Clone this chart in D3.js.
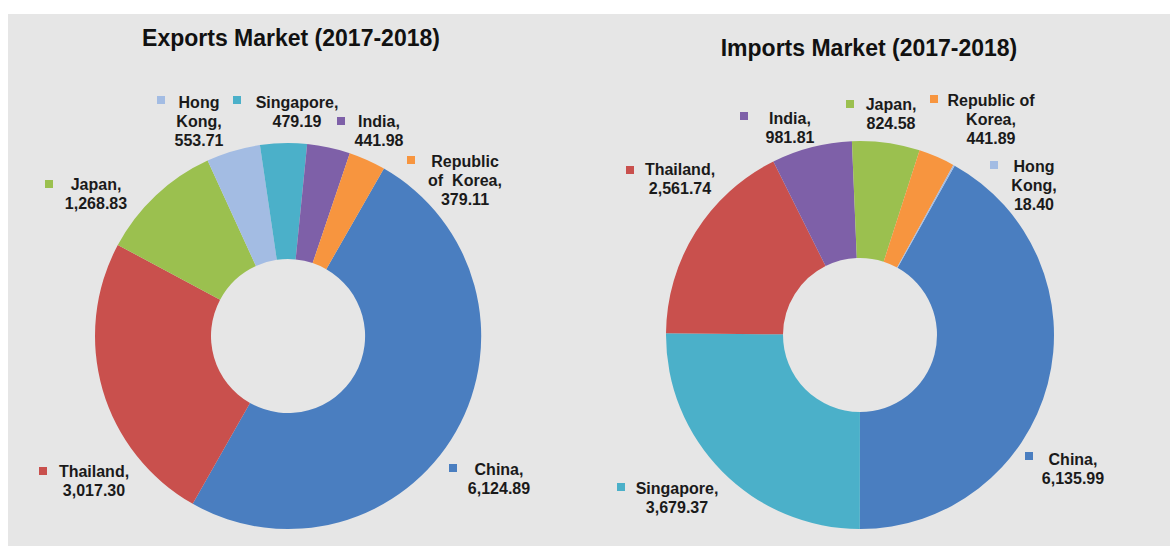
<!DOCTYPE html>
<html><head><meta charset="utf-8">
<script src="https://cdn.jsdelivr.net/npm/d3@7"></script>
<style>
body{margin:0;background:#fff;}
svg{display:block;font-family:"Liberation Sans",Arial,sans-serif;}
</style>
</head><body>
<svg id="c" width="1170" height="546"></svg>
<script>
// ---- data ----
const exportCategories = ["China","Thailand","Japan","Hong Kong","Singapore","India","Republic of Korea"];
const exportValues = [6124.89,3017.30,1268.83,553.71,479.19,441.98,379.11];
const importCategories = ["China","Singapore","Thailand","India","Japan","Republic of Korea","Hong Kong"];
const importValues = [6135.99,3679.37,2561.74,981.81,824.58,441.89,18.40];
const titles = ["Exports Market (2017-2018)","Imports Market (2017-2018)"];

// ---- styling / layout ----
const colorOf = {
  "China":"#4a7ec0","Thailand":"#c9504d","Japan":"#9bc04f","Hong Kong":"#a3bce3",
  "Singapore":"#4bb0c9","India":"#7e60a8","Republic of Korea":"#f7953f"
};
const fmt = d3.format(",.2f");

const charts = [
  {cats:exportCategories, vals:exportValues, title:titles[0], cx:288, cy:336, r:193, ri:77,
   start:29.8, titleX:291, titleY:46,
   labels:{
     "China":{lines:["China,"], x:499, y:475, mx:453, my:468},
     "Thailand":{lines:["Thailand,"], x:94, y:477, mx:43, my:471},
     "Japan":{lines:["Japan,"], x:96, y:190, mx:49, my:184},
     "Hong Kong":{lines:["Hong","Kong,"], x:199, y:108, mx:161, my:100},
     "Singapore":{lines:["Singapore,"], x:297, y:108, mx:237, my:100},
     "India":{lines:["India,"], x:379, y:127, mx:341, my:121},
     "Republic of Korea":{lines:["Republic","of  Korea,"], x:465, y:167, mx:411, my:160}
   }},
  {cats:importCategories, vals:importValues, title:titles[1], cx:860, cy:335, r:194, ri:77,
   start:29.2, titleX:869, titleY:56,
   labels:{
     "China":{lines:["China,"], x:1073, y:465, mx:1029, my:456},
     "Singapore":{lines:["Singapore,"], x:677, y:494, mx:621, my:487},
     "Thailand":{lines:["Thailand,"], x:680, y:175, mx:630, my:170},
     "India":{lines:["India,"], x:790, y:124, mx:744, my:116},
     "Japan":{lines:["Japan,"], x:891, y:110, mx:850, my:104},
     "Republic of Korea":{lines:["Republic of","Korea,"], x:991, y:106, mx:934, my:99},
     "Hong Kong":{lines:["Hong","Kong,"], x:1034, y:172, mx:994, my:165}
   }}
];

const svg = d3.select("#c");
svg.append("rect").attr("x",8).attr("y",14).attr("width",1162).attr("height",532).attr("fill","#e6e6e6");

charts.forEach(ch => {
  const data = ch.cats.map((c,i)=>({cat:c, val:ch.vals[i]}));
  const a0 = ch.start*Math.PI/180;
  const pie = d3.pie().sort(null).value(d=>d.val).startAngle(a0).endAngle(a0+2*Math.PI);
  const arc = d3.arc().innerRadius(ch.ri).outerRadius(ch.r);
  const g = svg.append("g").attr("transform",`translate(${ch.cx},${ch.cy})`);
  g.selectAll("path").data(pie(data)).join("path")
    .attr("d",arc).attr("fill",d=>colorOf[d.data.cat]);

  svg.append("text").attr("x",ch.titleX).attr("y",ch.titleY).attr("text-anchor","middle")
    .attr("font-size",23).attr("font-weight","bold").attr("fill","#111").text(ch.title);

  data.forEach(d => {
    const L = ch.labels[d.cat];
    svg.append("rect").attr("x",L.mx-4).attr("y",L.my-4).attr("width",8).attr("height",8)
      .attr("fill",colorOf[d.cat]);
    const lines = L.lines.concat([fmt(d.val)]);
    const t = svg.append("text").attr("text-anchor","middle").attr("font-size",16)
      .attr("font-weight","bold").attr("fill","#1a1a1a");
    lines.forEach((ln,i)=>{
      t.append("tspan").attr("x",L.x).attr("y",L.y+i*19).attr("xml:space","preserve").text(ln);
    });
  });
});
</script>
</body></html>
